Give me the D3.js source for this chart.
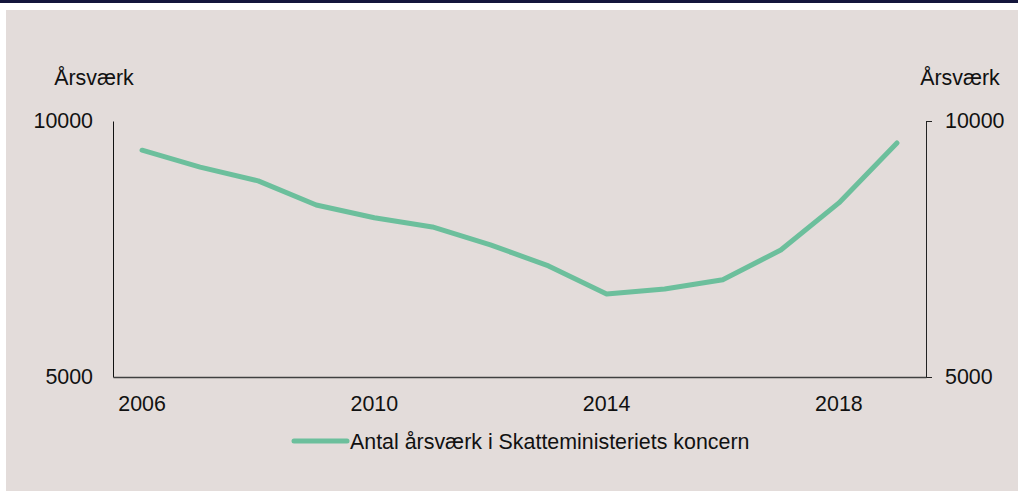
<!DOCTYPE html>
<html>
<head>
<meta charset="utf-8">
<script src="https://cdn.jsdelivr.net/npm/d3@7"></script>
<style>
  body { margin: 0; background: #ffffff; }
  text { font-family: "Liberation Sans", Arial, sans-serif; fill: #111; }
</style>
</head>
<body>
<div id="chart"></div>
<script>
// data
const years = [2006, 2007, 2008, 2009, 2010, 2011, 2012, 2013, 2014, 2015, 2016, 2017, 2018, 2019];
const fte = [9430, 9100, 8830, 8360, 8110, 7930, 7580, 7170, 6620, 6720, 6900, 7480, 8400, 9570];
const yTicks = [5000, 10000];
const xTickYears = [2006, 2010, 2014, 2018];
const unitLabel = "Årsværk";
const seriesName = "Antal årsværk i Skatteministeriets koncern";

const width = 1018, height = 492;
const plot = { left: 113, right: 926, top: 121, bottom: 377 };
const lineColor = "#6cbf9c";
const fontSize = "21.4px";

const svg = d3.select("#chart").append("svg")
  .attr("width", width)
  .attr("height", height);

// header strip + panel
svg.append("rect").attr("x", 0).attr("y", 0).attr("width", width).attr("height", 3).attr("fill", "#14163c");
svg.append("rect").attr("x", 6).attr("y", 10).attr("width", width - 6).attr("height", 481).attr("fill", "#e3dcda");

const x = d3.scaleBand()
  .domain(years)
  .range([plot.left, plot.right]);

const y = d3.scaleLinear()
  .domain([5000, 10000])
  .range([plot.bottom, plot.top]);

// left axis: line only, labels on the left
const yLeft = svg.append("g")
  .attr("transform", `translate(${plot.left},0)`)
  .call(d3.axisLeft(y).tickValues(yTicks).tickSize(0).tickPadding(20).tickFormat(d3.format("d")));
yLeft.select(".domain").attr("stroke", "#111").attr("stroke-width", 1);
yLeft.selectAll("text").style("font-size", fontSize).attr("fill", "#111");

// right axis with outward ticks
const yRight = svg.append("g")
  .attr("transform", `translate(${plot.right},0)`)
  .call(d3.axisRight(y).tickValues(yTicks).tickSizeInner(6).tickSizeOuter(0).tickPadding(13).tickFormat(d3.format("d")));
yRight.select(".domain").attr("stroke", "#222").attr("stroke-width", 1);
yRight.selectAll("line").attr("stroke", "#222");
yRight.selectAll("text").style("font-size", fontSize).attr("fill", "#111");

// x axis
const xAxis = svg.append("g")
  .attr("transform", `translate(0,${plot.bottom})`)
  .call(d3.axisBottom(x).tickValues(xTickYears).tickSize(0).tickPadding(19));
xAxis.select(".domain").attr("stroke", "#404040").attr("stroke-width", 1.5);
xAxis.selectAll("text").style("font-size", fontSize).attr("fill", "#111");

// unit labels
svg.append("text").attr("x", 94).attr("y", 85).attr("text-anchor", "middle")
  .style("font-size", fontSize).text(unitLabel);
svg.append("text").attr("x", 960).attr("y", 85).attr("text-anchor", "middle")
  .style("font-size", fontSize).text(unitLabel);

// series line
const line = d3.line()
  .x((d, i) => x(years[i]) + x.bandwidth() / 2)
  .y(d => y(d));

svg.append("path")
  .datum(fte)
  .attr("d", line)
  .attr("fill", "none")
  .attr("stroke", lineColor)
  .attr("stroke-width", 5)
  .attr("stroke-linecap", "round")
  .attr("stroke-linejoin", "round");

// legend
const legend = svg.append("g").attr("transform", "translate(292,441)");
legend.append("line")
  .attr("x1", 2).attr("x2", 55).attr("y1", 0).attr("y2", 0)
  .attr("stroke", lineColor).attr("stroke-width", 5).attr("stroke-linecap", "round");
legend.append("text").attr("x", 58).attr("y", 7.5)
  .style("font-size", fontSize).text(seriesName);
</script>
</body>
</html>
